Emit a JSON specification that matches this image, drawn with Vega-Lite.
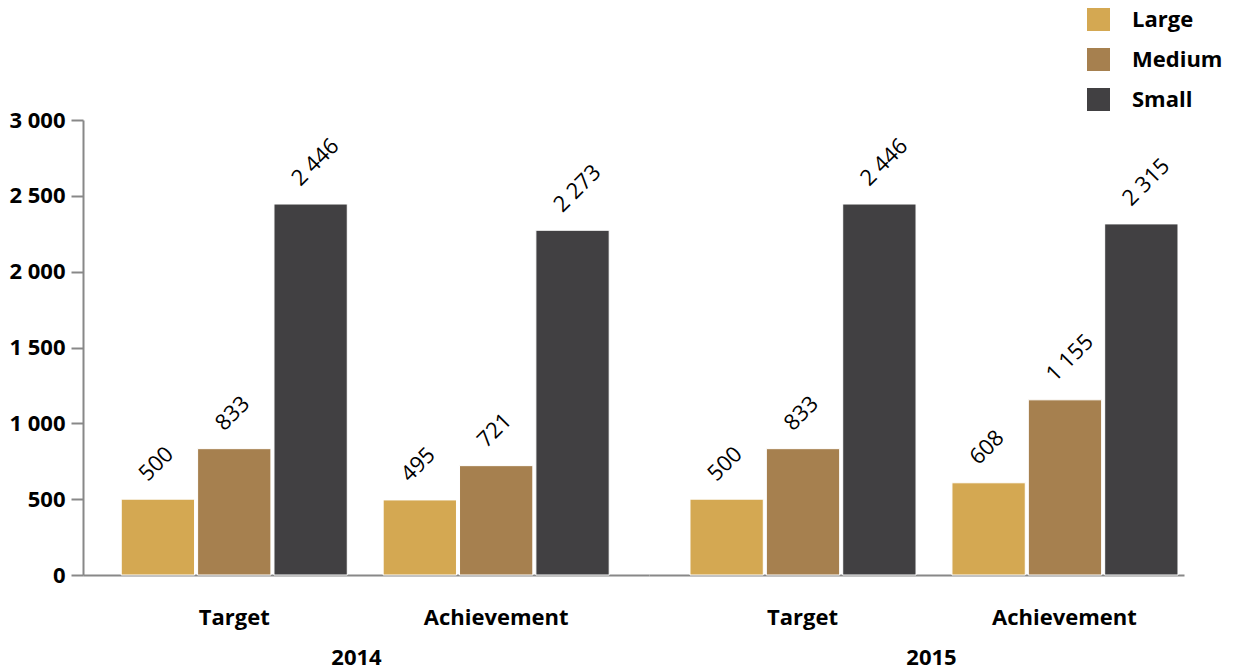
{
  "$schema": "https://vega.github.io/schema/vega-lite/v6.json",
  "padding": {"left": 8, "top": 8, "right": 5, "bottom": 5},
  "config": {
    "locale": {"number": {"decimal": ".", "thousands": " ", "grouping": [3], "currency": ["", ""]}},
    "view": {"stroke": null},
    "font": "Open Sans",
    "axis": {"domainColor": "#888888", "domainWidth": 2, "tickColor": "#888888", "tickWidth": 2, "labelColor": "#000000", "labelFont": "Open Sans", "labelFontWeight": "bold", "labelFontSize": 22, "titleFont": "Open Sans", "titleFontSize": 22, "titleFontWeight": "bold", "titleColor": "#000000", "grid": false},
    "legend": {"labelFont": "Open Sans", "labelFontSize": 22, "labelFontWeight": "bold", "labelColor": "#000000"}
  },
  "data": {"values": [
    {"year": "2014", "type": "Target", "size": "Large", "value": 500},
    {"year": "2014", "type": "Target", "size": "Medium", "value": 833},
    {"year": "2014", "type": "Target", "size": "Small", "value": 2446},
    {"year": "2014", "type": "Achievement", "size": "Large", "value": 495},
    {"year": "2014", "type": "Achievement", "size": "Medium", "value": 721},
    {"year": "2014", "type": "Achievement", "size": "Small", "value": 2273},
    {"year": "2015", "type": "Target", "size": "Large", "value": 500},
    {"year": "2015", "type": "Target", "size": "Medium", "value": 833},
    {"year": "2015", "type": "Target", "size": "Small", "value": 2446},
    {"year": "2015", "type": "Achievement", "size": "Large", "value": 608},
    {"year": "2015", "type": "Achievement", "size": "Medium", "value": 1155},
    {"year": "2015", "type": "Achievement", "size": "Small", "value": 2315}
  ]},
  "spacing": 0,
  "hconcat": [
    {
      "width": 566,
      "height": 455,
      "transform": [{"filter": "datum.year == '2014'"}],
      "encoding": {
        "x": {"field": "type", "type": "nominal", "sort": ["Target", "Achievement"],
              "scale": {"paddingInner": 0.137, "paddingOuter": 0.149, "align": 0.49},
              "axis": {"title": "2014", "ticks": false, "labelAngle": 0, "labelPadding": 32, "titlePadding": 19, "titleX": 273}},
        "xOffset": {"field": "size", "type": "nominal", "sort": ["Large", "Medium", "Small"], "scale": {"paddingInner": 0.04, "paddingOuter": 0}},
        "y": {"field": "value", "type": "quantitative", "scale": {"domain": [0, 3000]},
              "axis": {"title": null, "values": [0, 500, 1000, 1500, 2000, 2500, 3000], "format": ",d", "tickSize": 12, "labelPadding": 6}}
      },
      "layer": [
        {"mark": {"type": "bar", "stroke": "white", "strokeWidth": 1},
         "encoding": {"color": {"field": "size", "type": "nominal",
           "scale": {"domain": ["Large", "Medium", "Small"], "range": ["#D4A852", "#A6804F", "#414042"]},
           "legend": {"title": null, "orient": "none", "legendX": 1004, "legendY": -112, "symbolType": "square", "symbolSize": 529, "symbolStrokeWidth": 0, "symbolOpacity": 1, "labelOffset": 22, "rowPadding": 17}}}},
        {"mark": {"type": "text", "angle": -45, "align": "left", "baseline": "alphabetic", "fontSize": 22, "dx": -5.7, "dy": -8.5, "yOffset": -15, "color": "#000000", "font": "Open Sans"},
         "encoding": {"text": {"field": "value", "type": "quantitative", "format": ",d"}}}
      ]
    },
    {
      "width": 535,
      "height": 455,
      "transform": [{"filter": "datum.year == '2015'"}],
      "encoding": {
        "x": {"field": "type", "type": "nominal", "sort": ["Target", "Achievement"],
              "scale": {"paddingInner": 0.141, "paddingOuter": 0.0916, "align": 0.854},
              "axis": {"title": "2015", "ticks": false, "labelAngle": 0, "labelPadding": 32, "titlePadding": 19, "titleX": 282}},
        "xOffset": {"field": "size", "type": "nominal", "sort": ["Large", "Medium", "Small"], "scale": {"paddingInner": 0.04, "paddingOuter": 0}},
        "y": {"field": "value", "type": "quantitative", "scale": {"domain": [0, 3000]}, "axis": null}
      },
      "layer": [
        {"mark": {"type": "bar", "stroke": "white", "strokeWidth": 1},
         "encoding": {"color": {"field": "size", "type": "nominal",
           "scale": {"domain": ["Large", "Medium", "Small"], "range": ["#D4A852", "#A6804F", "#414042"]}}}},
        {"mark": {"type": "text", "angle": -45, "align": "left", "baseline": "alphabetic", "fontSize": 22, "dx": -5.7, "dy": -8.5, "yOffset": -15, "color": "#000000", "font": "Open Sans"},
         "encoding": {"text": {"field": "value", "type": "quantitative", "format": ",d"}}}
      ]
    }
  ]
}
